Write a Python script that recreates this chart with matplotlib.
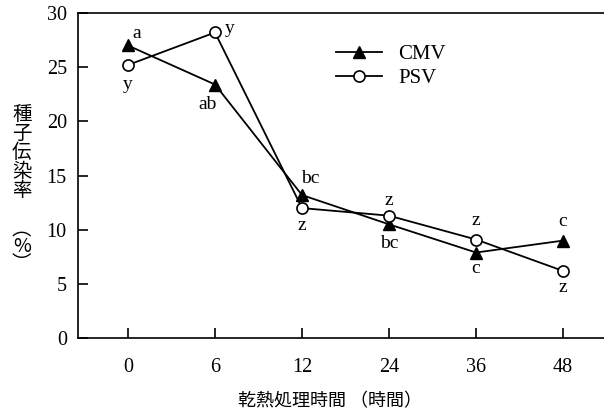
import numpy as np
import matplotlib.pyplot as plt

# data
hours = ['0', '6', '12', '24', '36', '48']
cmv = [27.0, 23.4, 13.2, 10.5, 7.9, 9.0]
psv = [25.2, 28.2, 12.0, 11.3, 9.1, 6.2]
cmv_letters = ['a', 'ab', 'bc', 'bc', 'c', 'c']
psv_letters = ['y', 'y', 'z', 'z', 'z', 'z']

serif = ['Liberation Serif', 'DejaVu Serif']
jp = ['Noto Sans CJK JP', 'DejaVu Sans']

fig = plt.figure(figsize=(6.04, 4.18), dpi=100)
ax = fig.add_axes([0.129, 0.191, 0.871, 0.778])

x = np.arange(len(hours))
ax.plot(x, cmv, '-^', color='black', lw=1.3, ms=8.5, mfc='black', label='CMV', zorder=3)
ax.plot(x, psv, '-o', color='black', lw=1.3, ms=8, mfc='white', mew=1.2, label='PSV', zorder=4)

# letter annotations (offsets in pixels)
cmv_off = [(9, 12), (-7, -20), (8, 17), (0, -19), (0, -16), (0, 19)]
psv_off = [(0, -20), (15, 4), (0, -17), (0, 15), (0, 19), (0, -17)]
for i in range(len(hours)):
    ax.annotate(cmv_letters[i], (x[i], cmv[i]), xytext=cmv_off[i], textcoords='offset pixels',
                ha='center', va='center', fontsize=14, family=serif)
    ax.annotate(psv_letters[i], (x[i], psv[i]), xytext=psv_off[i], textcoords='offset pixels',
                ha='center', va='center', fontsize=14, family=serif)

ax.set_xlim(-0.575, 5.47)
ax.set_ylim(0, 30)
ax.set_xticks(x)
ax.set_xticklabels(hours)
ax.set_yticks([0, 5, 10, 15, 20, 25, 30])
ax.tick_params(direction='in', length=7, width=1.2, labelsize=14.5)
ax.tick_params(axis='x', pad=14)
ax.tick_params(axis='y', pad=8)
for lab in ax.get_xticklabels() + ax.get_yticklabels():
    lab.set_family(serif)
ax.spines['right'].set_visible(False)
for s in ['left', 'top', 'bottom']:
    ax.spines[s].set_linewidth(1.2)

leg = ax.legend(loc='upper left', bbox_to_anchor=(0.455, 0.96), frameon=False,
                handlelength=2.2, handletextpad=0.8, labelspacing=0.2,
                prop={'family': serif, 'size': 15})

fig.text(0.546, 0.04, '乾熱処理時間 （時間）', ha='center', va='center', fontsize=13, family=jp)
fig.text(0.036, 0.635, '種\n子\n伝\n染\n率', ha='center', va='center', fontsize=14,
         family=jp, linespacing=0.88)
fig.text(0.036, 0.41, '︵\n%\n︶', ha='center', va='center', fontsize=14,
         family=jp, linespacing=0.75)

fig.savefig('out.png', dpi=100)
